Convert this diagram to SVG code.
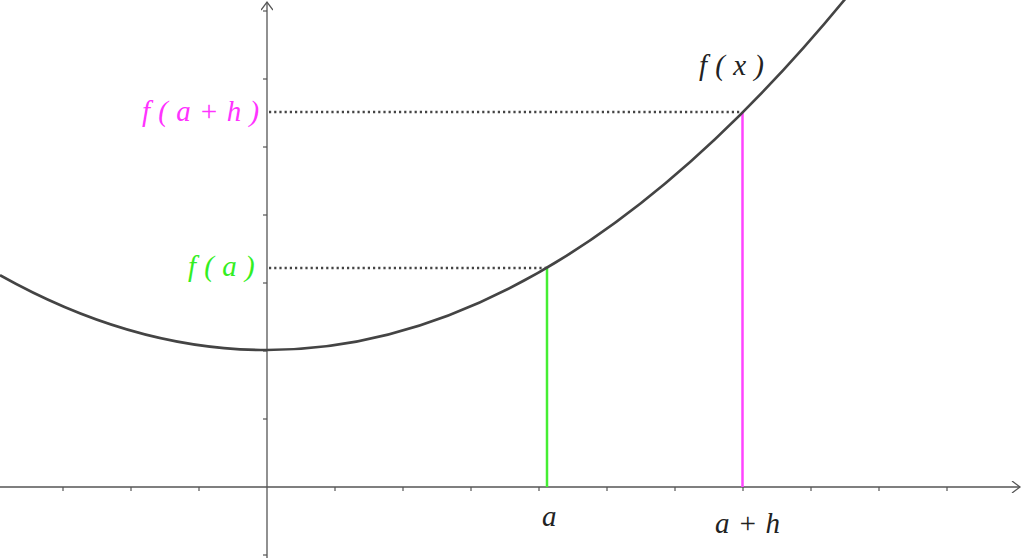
<svg xmlns="http://www.w3.org/2000/svg" width="1024" height="558" viewBox="0 0 1024 558">
<style>
.axis{stroke:#555;stroke-width:1.3;fill:none}
.tick{stroke:#555;stroke-width:1.2}
.dot{stroke:#444;stroke-width:2.4;stroke-dasharray:2.2,3;fill:none}
.lbl{font-family:"Liberation Serif","DejaVu Serif",serif;font-style:italic;font-size:29px;word-spacing:1px}
</style>
<defs>
<marker id="arr" markerWidth="12" markerHeight="12" refX="10" refY="6" orient="auto" markerUnits="userSpaceOnUse">
<path d="M2,0 L10,6 L2,12" fill="none" stroke="#555" stroke-width="1.3"/>
</marker>
</defs>
<rect width="1024" height="558" fill="#fff"/>
<g id="axes">
<line class="axis" x1="0" y1="487" x2="1020" y2="487" marker-end="url(#arr)"/>
<line class="axis" x1="267" y1="558" x2="267" y2="2" marker-end="url(#arr)"/>
<g class="tick">
<line x1="63" y1="487" x2="63" y2="491"/><line x1="131" y1="487" x2="131" y2="491"/><line x1="199" y1="487" x2="199" y2="491"/>
<line x1="335" y1="487" x2="335" y2="491"/><line x1="403" y1="487" x2="403" y2="491"/><line x1="471" y1="487" x2="471" y2="491"/>
<line x1="539" y1="487" x2="539" y2="491"/><line x1="607" y1="487" x2="607" y2="491"/><line x1="675" y1="487" x2="675" y2="491"/>
<line x1="743" y1="487" x2="743" y2="491"/><line x1="811" y1="487" x2="811" y2="491"/><line x1="879" y1="487" x2="879" y2="491"/>
<line x1="947" y1="487" x2="947" y2="491"/>
<line x1="263" y1="555" x2="267" y2="555"/><line x1="263" y1="419" x2="267" y2="419"/><line x1="263" y1="351" x2="267" y2="351"/>
<line x1="263" y1="283" x2="267" y2="283"/><line x1="263" y1="215" x2="267" y2="215"/><line x1="263" y1="147" x2="267" y2="147"/>
<line x1="263" y1="79" x2="267" y2="79"/><line x1="263" y1="11" x2="267" y2="11"/>
</g>
</g>
<g id="connectors">
<line class="dot" x1="269" y1="268" x2="547" y2="268"/>
<line class="dot" x1="269" y1="112" x2="742" y2="112"/>
<line x1="547" y1="268" x2="547" y2="487" stroke="#44ee33" stroke-width="2.5"/>
<line x1="742.5" y1="112" x2="742.5" y2="487" stroke="#ff44ff" stroke-width="2.5"/>
</g>
<g id="curve">
<path d="M0,275.15 Q425,513.45 850,-6.88" fill="none" stroke="#444" stroke-width="2.6"/>
</g>
<g id="labels">
<text class="lbl" x="699" y="75" fill="#222">f ( x )</text>
<text class="lbl" x="142" y="121" fill="#ff33ff">f ( a + h )</text>
<text class="lbl" x="188" y="276" fill="#33ee22">f ( a )</text>
<text class="lbl" x="542" y="526" fill="#222">a</text>
<text class="lbl" x="715" y="533" fill="#222">a + h</text>
</g>
</svg>
